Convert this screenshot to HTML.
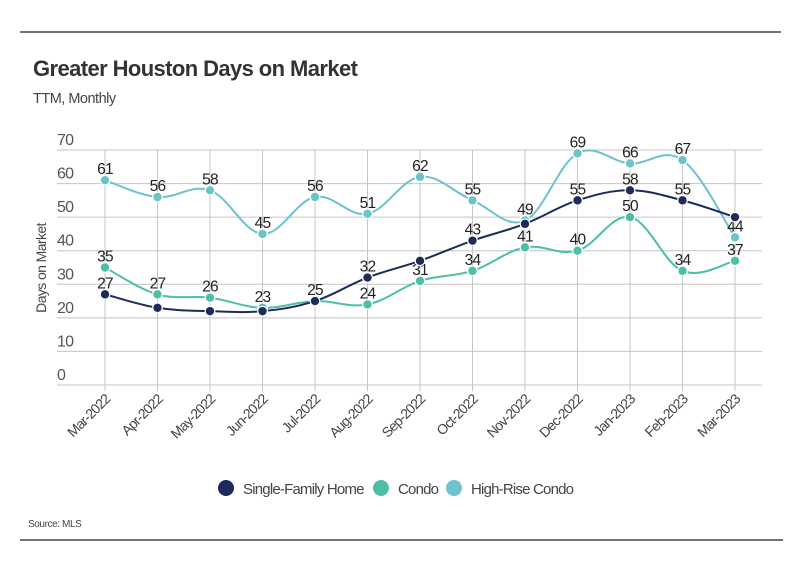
<!DOCTYPE html>
<html><head><meta charset="utf-8"><style>
body{margin:0;background:#fff;}
svg{display:block;font-family:"Liberation Sans",sans-serif;}
</style></head><body>
<svg id="c" width="799" height="575" viewBox="0 0 799 575">
<line x1="20" y1="32" x2="781" y2="32" stroke="#222" stroke-width="1.2"/>
<text x="33" y="76" font-size="22" font-weight="bold" fill="#333" letter-spacing="-0.6">Greater Houston Days on Market</text>
<text x="33" y="103" font-size="14.5" fill="#444" letter-spacing="-0.5">TTM, Monthly</text>
<g id="grid"></g>
<g id="axes"></g>
<text transform="translate(46,268) rotate(-90)" text-anchor="middle" font-size="14" fill="#444" letter-spacing="-0.6">Days on Market</text>
<g id="series"></g>
<g id="legend"></g>
<text x="28" y="527" font-size="10" fill="#444" letter-spacing="-0.4">Source:  MLS</text>
<line x1="20" y1="540" x2="783" y2="540" stroke="#222" stroke-width="1.2"/>
</svg>
<script>
const categories=["Mar-2022","Apr-2022","May-2022","Jun-2022","Jul-2022","Aug-2022","Sep-2022","Oct-2022","Nov-2022","Dec-2022","Jan-2023","Feb-2023","Mar-2023"];
const sfhValues=[27,23,22,22,25,32,37,43,48,55,58,55,50];
const sfhLabeled=[true,false,false,false,false,true,false,true,false,true,true,true,false];
const condoValues=[35,27,26,23,25,24,31,34,41,40,50,34,37];
const highRiseValues=[61,56,58,45,56,51,62,55,49,69,66,67,44];
const yTicks=[0,10,20,30,40,50,60,70];
const seriesNames=["Single-Family Home","Condo","High-Rise Condo"];

const NS="http://www.w3.org/2000/svg";
const x0=105,dx=52.5,yBase=385,yScale=235/70;
const X=i=>x0+i*dx, Y=v=>yBase-v*yScale;
function mk(tag,attrs,parent){const e=document.createElementNS(NS,tag);for(const k in attrs)e.setAttribute(k,attrs[k]);parent.appendChild(e);return e;}
const grid=document.getElementById('grid'),axes=document.getElementById('axes'),ser=document.getElementById('series'),leg=document.getElementById('legend');
yTicks.forEach(t=>{
  const l=mk('line',{x1:57,x2:762,y1:Y(t),y2:Y(t),stroke:'#c4c4c4','stroke-width':1},grid);
  
  
  const tx=mk('text',{x:57,y:Y(t)-5,'font-size':16,fill:'#555','letter-spacing':'-0.8'},axes);tx.textContent=t;
  
  
});
categories.forEach((c,i)=>{
  const l=mk('line',{x1:X(i),x2:X(i),y1:Y(70),y2:Y(0)+6,stroke:'#c4c4c4','stroke-width':1},grid);
  
  
  const t=mk('text',{transform:`translate(${X(i)+6},${Y(0)+15}) rotate(-45)`,'text-anchor':'end','font-size':14,fill:'#444','letter-spacing':'-0.8'},axes);
  t.textContent=c;
  
  
});
function smooth(pts){let d=`M${pts[0][0]},${pts[0][1]}`;const k=0.18;
  for(let i=0;i<pts.length-1;i++){const p0=pts[i-1]||pts[i],p1=pts[i],p2=pts[i+1],p3=pts[i+2]||p2;
    const c1=[p1[0]+(p2[0]-p0[0])*k,p1[1]+(p2[1]-p0[1])*k],c2=[p2[0]-(p3[0]-p1[0])*k,p2[1]-(p3[1]-p1[1])*k];
    d+=` C${c1[0]},${c1[1]} ${c2[0]},${c2[1]} ${p2[0]},${p2[1]}`;}return d;}
function drawSeries(vals,color,name,labeled){
  const g=mk('g',{},ser);
  
  
  const p=mk('path',{d:smooth(vals.map((v,i)=>[X(i),Y(v)])),fill:'none',stroke:color,'stroke-width':2},g);
  
  
  vals.forEach((v,i)=>{
    const c=mk('circle',{cx:X(i),cy:Y(v),r:4.8,fill:color,stroke:'#fff','stroke-width':1.2},g);
    
    
    if(labeled[i]){const t=mk('text',{x:X(i),y:Y(v)-6,'text-anchor':'middle','font-size':15.5,fill:'#222','letter-spacing':'-0.8'},g);t.textContent=v;
      
      }
  });
}
drawSeries(highRiseValues,'#6cc3cb','high-rise-condo',highRiseValues.map(()=>true));
drawSeries(condoValues,'#4dbfa8','condo',condoValues.map(()=>true));
drawSeries(sfhValues,'#1c2a5c','single-family-home',sfhLabeled);
const legColors=['#1c2a5c','#4dbfa8','#6cc3cb'];
const legX=[226,381,454];
seriesNames.forEach((n,i)=>{
  const g=mk('g',{},leg);
  
  
  mk('circle',{cx:legX[i],cy:488,r:8,fill:legColors[i]},g);
  const t=mk('text',{x:legX[i]+17,y:494,'font-size':15,fill:'#444','letter-spacing':'-0.8'},g);t.textContent=n;
});
</script>
</body></html>
